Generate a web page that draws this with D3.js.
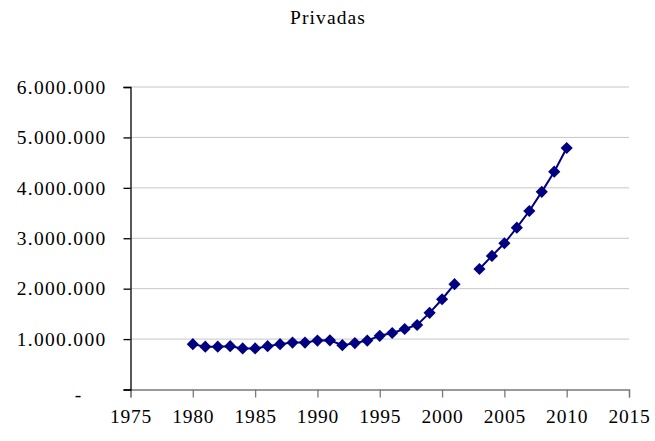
<!DOCTYPE html>
<html><head><meta charset="utf-8">
<script src="https://cdn.jsdelivr.net/npm/d3@7"></script>
<style>
body{margin:0;background:#fff;}
svg{display:block;}
text{font-family:"Liberation Serif","DejaVu Serif",serif;fill:#000;}
</style></head>
<body>
<svg id="c" width="655" height="441"></svg>
<script>
const title = "Privadas";
const years = [1980,1981,1982,1983,1984,1985,1986,1987,1988,1989,1990,1991,1992,1993,1994,1995,1996,1997,1998,1999,2000,2001,2002,2003,2004,2005,2006,2007,2008,2009,2010];
const values = [900000,850000,850000,860000,815000,815000,860000,900000,930000,930000,970000,975000,880000,920000,970000,1065000,1120000,1200000,1280000,1520000,1790000,2090000,null,2390000,2650000,2900000,3210000,3540000,3920000,4320000,4790000];
const xTicks = [1975,1980,1985,1990,1995,2000,2005,2010,2015];
const yTicks = [0,1000000,2000000,3000000,4000000,5000000,6000000];

const svg = d3.select("#c");
const L = 130.5, R = 629, T = 87, B = 389.5;
const x = d3.scaleLinear().domain([1975,2015]).range([L,R]);
const y = d3.scaleLinear().domain([0,6000000]).range([B,T]);

const fmt = v => v === 0 ? "-" : d3.format(",")(v).replace(/,/g,".");

// gridlines
svg.append("g").selectAll("line").data(yTicks.filter(d=>d>0)).join("line")
  .attr("x1",L).attr("x2",R).attr("y1",d=>y(d)).attr("y2",d=>y(d))
  .attr("stroke","#c6c6c6").attr("stroke-width",1);

// x axis
const gx = svg.append("g").attr("transform",`translate(0,${B})`)
  .call(d3.axisBottom(x).tickValues(xTicks).tickFormat(d3.format("d")).tickSize(8).tickPadding(14));
gx.select(".domain").attr("stroke","#7a7a7a").attr("stroke-width",1.3);
gx.selectAll(".tick line").attr("stroke","#7a7a7a").attr("stroke-width",1.3);
gx.selectAll("text").attr("font-size",19.5).attr("font-family","Liberation Serif")
  .attr("letter-spacing","0.8px").attr("dy","0.6em");

// y axis
const gy = svg.append("g").attr("transform",`translate(${L},0)`)
  .call(d3.axisLeft(y).tickValues(yTicks).tickFormat(fmt).tickSize(7).tickPadding(26));
gy.select(".domain").attr("stroke","#000").attr("stroke-width",1.3);
gy.selectAll(".tick line").attr("stroke","#000").attr("stroke-width",1.3);
gy.selectAll("text").attr("font-size",19.5).attr("font-family","Liberation Serif")
  .attr("letter-spacing","1.3px").attr("text-anchor","end")
  .attr("dx",d=>d===0?"-24":"0").attr("dy",d=>d===0?"0.55em":"0.32em");
gy.selectAll(".tick text").attr("x", -24);

// line
const data = years.map((yr,i)=>({yr, v: values[i]}));
const line = d3.line().defined(d=>d.v!==null).x(d=>x(d.yr)).y(d=>y(d.v));
svg.append("path").datum(data).attr("d",line)
  .attr("fill","none").attr("stroke","#000080").attr("stroke-width",2);

// markers
const sym = d3.symbol().type(d3.symbolSquare).size(74);
svg.append("g").selectAll("path").data(data.filter(d=>d.v!==null)).join("path")
  .attr("d",sym)
  .attr("transform",d=>`translate(${x(d.yr)},${y(d.v)}) rotate(45)`)
  .attr("fill","#000080");

// title
svg.append("text").attr("x",328).attr("y",24).attr("text-anchor","middle")
  .attr("font-size",19.5).attr("letter-spacing","1.1px").text(title);
</script>
</body></html>
